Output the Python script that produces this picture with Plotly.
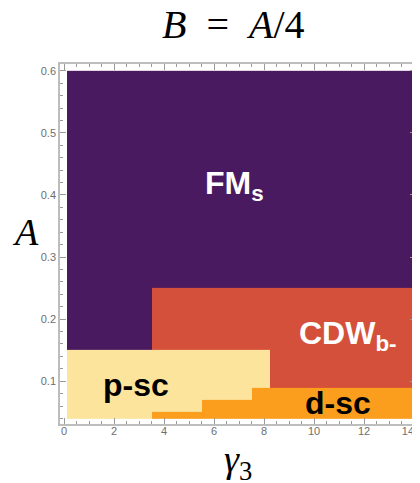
import plotly.graph_objects as go

# Phase-diagram data: cell edges and phase index per cell
gamma_edges = [0.12, 3.5, 5.5, 7.5, 8.25, 14.0]
A_edges = [0.04, 0.05, 0.07, 0.09, 0.15, 0.25, 0.60]
# 0 = FM_s, 1 = CDW_b-, 2 = p-sc, 3 = d-sc ; rows follow A_edges bins, columns gamma_edges bins
phase_rows = [
    [2, 3, 3, 3, 3],
    [2, 2, 3, 3, 3],
    [2, 2, 2, 3, 3],
    [2, 2, 2, 2, 1],
    [0, 1, 1, 1, 1],
    [0, 0, 0, 0, 0],
]
phase_colors = ["#4a1a60", "#d5503a", "#fde49c", "#fb9e1d"]

labels = ["FM<sub>s</sub>", "CDW<sub>b-</sub>", "p-sc", "d-sc"]
label_gamma = [6.8, 11.36, 2.88, 10.96]
label_A = [0.416, 0.174, 0.094, 0.065]
label_colors = ["white", "white", "black", "black"]

x_ticks = [0, 2, 4, 6, 8, 10, 12, 14]
x_tick_text = ["0", "2", "4", "6", "8", "10", "12", "14\u00a0\u00a0\u00a0\u00a0"]
y_ticks = [0.1, 0.2, 0.3, 0.4, 0.5, 0.6]
y_tick_text = ["0.1", "0.2", "0.3", "0.4", "0.5", "0.6"]

n = len(phase_colors)
colorscale = []
for i, c in enumerate(phase_colors):
    colorscale.append([i / (n - 1), c])

fig = go.Figure()
fig.add_trace(go.Heatmap(
    x=gamma_edges, y=A_edges, z=phase_rows,
    zmin=0, zmax=n - 1, colorscale=colorscale,
    showscale=False, hoverinfo="skip",
))

for t, gx, ay, c in zip(labels, label_gamma, label_A, label_colors):
    fig.add_annotation(x=gx, y=ay, xref="x", yref="y", text="<b>" + t + "</b>",
                       showarrow=False, xanchor="center", yanchor="middle",
                       font=dict(family="Liberation Sans, Arial, sans-serif", size=32, color=c))

serif = "Liberation Serif, Times New Roman, serif"
fig.add_annotation(x=0.486, y=1.11, xref="paper", yref="paper", xanchor="center", yanchor="middle",
                   text="<i>B</i>  =  <i>A</i>/4", showarrow=False,
                   font=dict(family=serif, size=40, color="black"))
fig.add_annotation(x=-0.098, y=0.533, xref="paper", yref="paper", xanchor="center", yanchor="middle",
                   text="<i>A</i>", showarrow=False,
                   font=dict(family=serif, size=38, color="black"))
fig.add_annotation(x=0.5, y=-0.105, xref="paper", yref="paper", xanchor="center", yanchor="middle",
                   text="<i>γ</i><sub>3</sub>", showarrow=False,
                   font=dict(family=serif, size=38, color="black"))

axis_common = dict(
    showline=True, linecolor="#bdbdbd", linewidth=1.5, mirror="ticks",
    ticks="inside", ticklen=6, tickcolor="#9a9a9a", tickwidth=1,
    showgrid=False, zeroline=False, automargin=False, ticklabeloverflow="allow",
    tickfont=dict(family="Liberation Sans, Arial, sans-serif", size=11, color="#6e6e6e"),
)

fig.update_xaxes(range=[-0.16, 14.08], tickvals=x_ticks, ticktext=x_tick_text, ticklabelstandoff=-4,
                 minor=dict(ticks="inside", dtick=0.5, ticklen=3, tickcolor="#9a9a9a", tick0=0),
                 **axis_common)
fig.update_yaxes(range=[0.031, 0.611], tickvals=y_ticks, ticktext=y_tick_text,
                 minor=dict(ticks="inside", dtick=0.02, ticklen=3, tickcolor="#9a9a9a", tick0=0),
                 **axis_common)

# page body has an 8px default margin, so the figure is 8px smaller and shifted
fig.update_layout(
    width=412, height=475,
    margin=dict(l=52, r=4, t=56, b=59),
    plot_bgcolor="white", paper_bgcolor="white",
    showlegend=False,
)

fig.write_html("out.html")
